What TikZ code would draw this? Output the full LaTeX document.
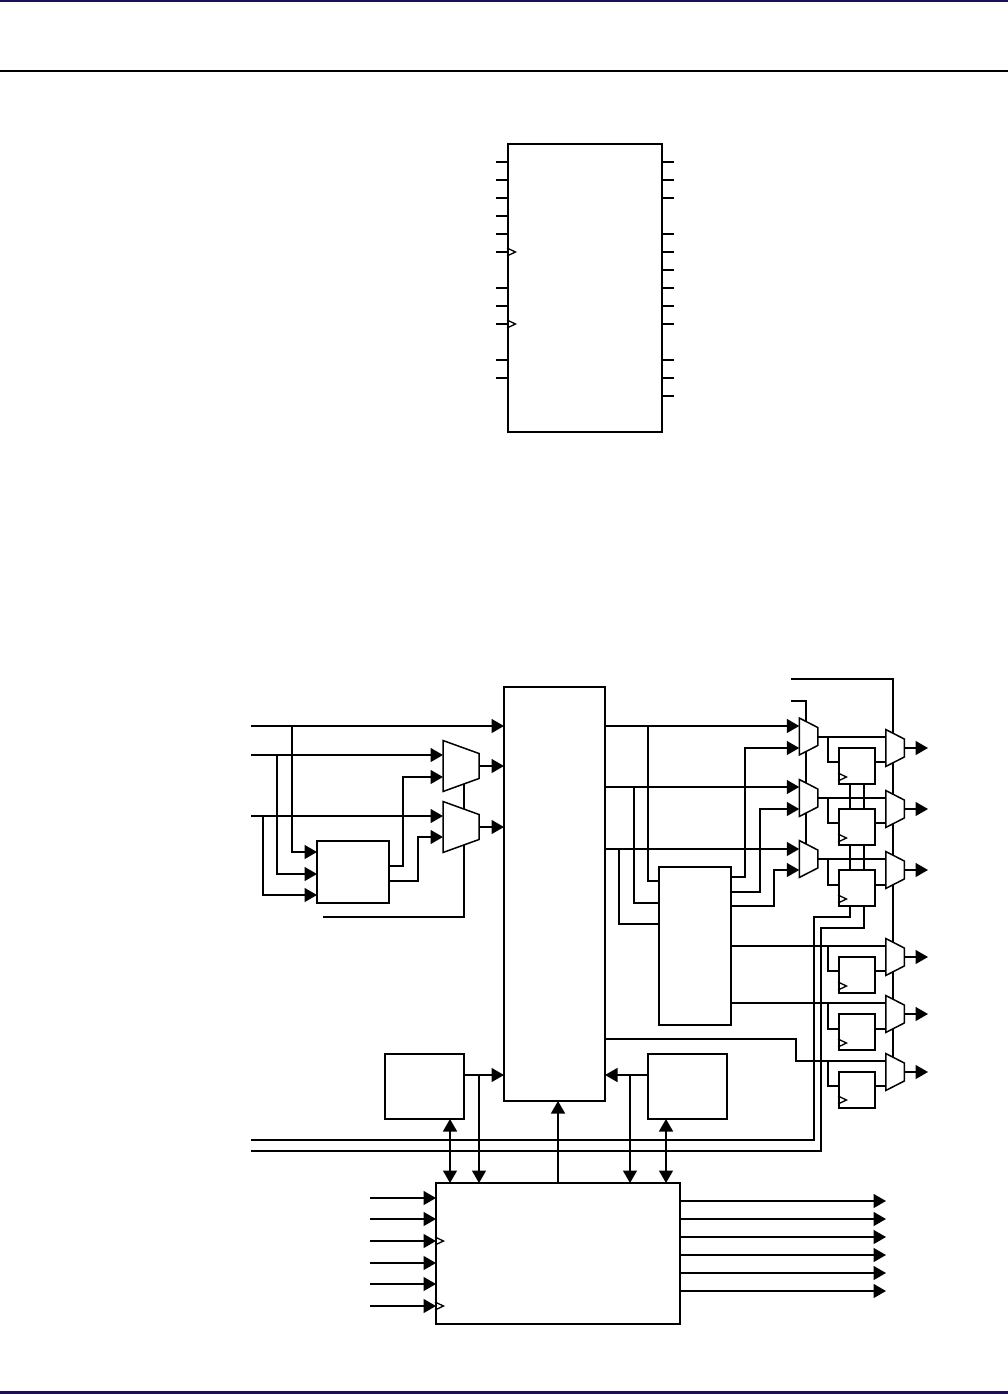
\documentclass[tikz,border=0pt]{standalone}
\usepackage{xcolor}
\usetikzlibrary{arrows.meta,calc}
\definecolor{PageNavy}{HTML}{1E0F55}
\definecolor{WireInk}{HTML}{000000}
\tikzset{
  blockbox/.style={draw=WireInk,line width=1.5pt,fill=white,inner sep=0pt,outer sep=0pt},
  muxbox/.style={inner sep=0pt,outer sep=0pt},
  muxline/.style={draw=WireInk,line width=1.5pt,fill=white,line join=miter},
  wire/.style={draw=WireInk,line width=1.5pt},
  sig/.style={wire,-{Triangle[length=12.5pt,width=14pt]}},
  bidir/.style={wire,{Triangle[length=12.5pt,width=14pt]}-{Triangle[length=12.5pt,width=14pt]}},
  clockmark/.style={draw=WireInk,line width=1.3pt}
}
% mux outline over an invisible node: name, inset of the short side
\newcommand{\muxoutline}[2]{%
  \path[muxline] (#1.north west) -- ([yshift=-#2]#1.north east)
    -- ([yshift=#2]#1.south east) -- (#1.south west) -- cycle;}
% open clock triangle: left edge, height
\newcommand{\clockat}[2]{%
  \draw[clockmark] ($(#1 |- #2)+(-1,-4)$) -- ($(#1 |- #2)+(7.5,0)$) -- ($(#1 |- #2)+(-1,4)$);}
\begin{document}
\begin{tikzpicture}[x=1pt,y=-1pt]
  \useasboundingbox (0,0) rectangle (1008,1394);
  \fill[PageNavy] (0,0) rectangle (1008,2);
  \fill[WireInk] (0,70) rectangle (1008,72);
  \fill[PageNavy] (0,1391) rectangle (1008,1394);

  % upper symbol
  \node[blockbox,minimum width=154pt,minimum height=288pt] (symbol) at (585,288) {};
  \foreach \py/\pn in {162/a,180/b,198/c,216/d,234/e,252/f,288/g,306/h,324/i,360/j,378/k} {
    \coordinate (pinl\pn) at (496,\py);
    \draw[wire] (pinl\pn) -- (symbol.west |- pinl\pn);
  }
  \foreach \py/\pn in {162/a,180/b,198/c,234/d,252/e,270/f,288/g,306/h,324/i,360/j,378/k,396/l} {
    \coordinate (pinr\pn) at (674,\py);
    \draw[wire] (pinr\pn) -- (symbol.east |- pinr\pn);
  }
  \clockat{symbol.west}{pinlf}
  \clockat{symbol.west}{pinli}

  % lower schematic: blocks
  \node[blockbox,minimum width=101pt,minimum height=414pt] (core) at (554.5,894) {};
  \node[blockbox,minimum width=72pt,minimum height=62pt] (encoder) at (353,872) {};
  \node[blockbox,minimum width=72pt,minimum height=158pt] (decoder) at (695,946) {};
  \node[blockbox,minimum width=79pt,minimum height=65pt] (bufl) at (424.5,1086.5) {};
  \node[blockbox,minimum width=79pt,minimum height=65pt] (bufr) at (687.5,1086.5) {};
  \node[blockbox,minimum width=244pt,minimum height=141pt] (ctrl) at (558,1253.5) {};
  % registers
  \foreach \rn/\ry in {1/766,2/827,3/888,4/975,5/1032,6/1090}
    \node[blockbox,minimum width=36pt,minimum height=36pt] (reg\rn) at (857,\ry) {};
  % muxes, outlines come after the wires
  \node[muxbox,minimum width=36pt,minimum height=51pt] (mxa) at (461,766) {};
  \node[muxbox,minimum width=36pt,minimum height=51pt] (mxb) at (461,827) {};
  \node[muxbox,minimum width=18.5pt,minimum height=37pt] (mxc) at (808.5,736.5) {};
  \node[muxbox,minimum width=18.5pt,minimum height=37pt] (mxd) at (808.5,798) {};
  \node[muxbox,minimum width=18.5pt,minimum height=37pt] (mxe) at (808.5,859) {};
  \foreach \rn/\ry in {1/748,2/809,3/870,4/957,5/1014,6/1072}
    \node[muxbox,minimum width=18.5pt,minimum height=37pt] (out\rn) at (895,\ry) {};

  % free ends
  \coordinate (ina) at (251,726);
  \coordinate (inb) at (251,755);
  \coordinate (inc) at (251,816);
  \coordinate (sela) at (323,917);
  \coordinate (selb) at (791,701);
  \coordinate (selc) at (791,679);
  \coordinate (busa) at (251,1140);
  \coordinate (busb) at (251,1151);

  % left side
  \draw[sig] (ina) -- (core.west |- ina);
  \draw[sig] (inb) -- (mxa.west |- inb);
  \draw[sig] (inc) -- (mxb.west |- inc);
  \draw[sig] (292,726) |- (encoder.west |- 0,852);
  \draw[sig] (277,755) |- (encoder.west |- 0,874);
  \draw[sig] (263,816) |- (encoder.west |- 0,895);
  \draw[sig] (encoder.east |- 0,866) -| (403,777) -- (mxa.west |- 0,777);
  \draw[sig] (encoder.east |- 0,881) -| (418,837) -- (mxb.west |- 0,837);
  \draw[wire] (sela) -| (464,784);
  \draw[sig] (mxa.east) -- (core.west |- mxa.east);
  \draw[sig] (mxb.east) -- (core.west |- mxb.east);

  % core to the output muxes
  \draw[sig] (core.east |- 0,726) -- (mxc.west |- 0,726);
  \draw[sig] (core.east |- 0,787) -- (mxd.west |- 0,787);
  \draw[sig] (core.east |- 0,849) -- (mxe.west |- 0,849);
  \draw[wire] (648,726) |- (decoder.west |- 0,881);
  \draw[wire] (634,787) |- (decoder.west |- 0,903);
  \draw[wire] (619,849) |- (decoder.west |- 0,924);
  \draw[sig] (decoder.east |- 0,877) -| (745,748) -- (mxc.west |- 0,748);
  \draw[sig] (decoder.east |- 0,892) -| (760,809) -- (mxd.west |- 0,809);
  \draw[sig] (decoder.east |- 0,906) -| (774,870) -- (mxe.west |- 0,870);
  \draw[wire] (selb) -| (806,845);
  \draw[wire] (selc) -| (893,1060);

  % register stages
  \foreach \mn/\rn/\ry/\rb in {mxc/1/737/762,mxd/2/798/823,mxe/3/859/885} {
    \draw[wire] (\mn.east |- 0,\ry) -- (out\rn.west |- 0,\ry);
    \draw[wire] (828,\ry) |- (reg\rn.west |- 0,\rb);
    \draw[wire] (reg\rn.east |- 0,\rb) -- (out\rn.west |- 0,\rb);
  }
  \draw[wire] (decoder.east |- 0,946) -- (out4.west |- 0,946);
  \draw[wire] (decoder.east |- 0,1003) -- (out5.west |- 0,1003);
  \draw[wire] (core.east |- 0,1039) -| (796,1061) -- (out6.west |- 0,1061);
  \foreach \rn/\ry/\rb in {4/946/971,5/1003/1029,6/1061/1086} {
    \draw[wire] (828,\ry) |- (reg\rn.west |- 0,\rb);
    \draw[wire] (reg\rn.east |- 0,\rb) -- (out\rn.west |- 0,\rb);
  }
  \foreach \ra/\rb in {1/2,2/3} {
    \draw[wire] (reg\ra.south -| 850,0) -- (reg\rb.north -| 850,0);
    \draw[wire] (reg\ra.south -| 864,0) -- (reg\rb.north -| 864,0);
  }
  \draw[wire] (reg3.south -| 850,0) |- (814,917) |- (busa);
  \draw[wire] (reg3.south -| 864,0) |- (821,928) |- (busb);
  \foreach \rn/\ry in {1/777,2/838,3/899,4/986,5/1043,6/1100} {
    \clockat{reg\rn.west}{0,\ry}
  }
  \foreach \rn/\ry in {1/748,2/809,3/870,4/957,5/1014,6/1072} {
    \coordinate (tip\rn) at (928,\ry);
    \draw[sig] (out\rn.east) -- (tip\rn);
  }

  % mux outlines
  \muxoutline{mxa}{13pt}
  \muxoutline{mxb}{13pt}
  \muxoutline{mxc}{9.5pt}
  \muxoutline{mxd}{9.5pt}
  \muxoutline{mxe}{9.5pt}
  \foreach \rn in {1,...,6} { \muxoutline{out\rn}{9.5pt} }

  % controller connections
  \draw[sig] (bufl.east |- 0,1075) -- (core.west |- 0,1075);
  \draw[sig] (bufr.west |- 0,1075) -- (core.east |- 0,1075);
  \draw[sig] (479,1075) -- (ctrl.north -| 479,0);
  \draw[sig] (630,1075) -- (ctrl.north -| 630,0);
  \draw[bidir] (bufl.south -| 450,0) -- (ctrl.north -| 450,0);
  \draw[bidir] (bufr.south -| 666,0) -- (ctrl.north -| 666,0);
  \draw[sig] (ctrl.north) -- (core.south -| ctrl.north);
  \foreach \py/\pn in {1198/a,1219/b,1241/c,1263/d,1284/e,1306/f} {
    \coordinate (ctl\pn) at (370,\py);
    \draw[sig] (ctl\pn) -- (ctrl.west |- ctl\pn);
  }
  \clockat{ctrl.west}{ctlc}
  \clockat{ctrl.west}{ctlf}
  \foreach \py/\pn in {1201/a,1219/b,1237/c,1255/d,1273/e,1291/f} {
    \coordinate (cto\pn) at (886,\py);
    \draw[sig] (ctrl.east |- cto\pn) -- (cto\pn);
  }
\end{tikzpicture}
\end{document}
